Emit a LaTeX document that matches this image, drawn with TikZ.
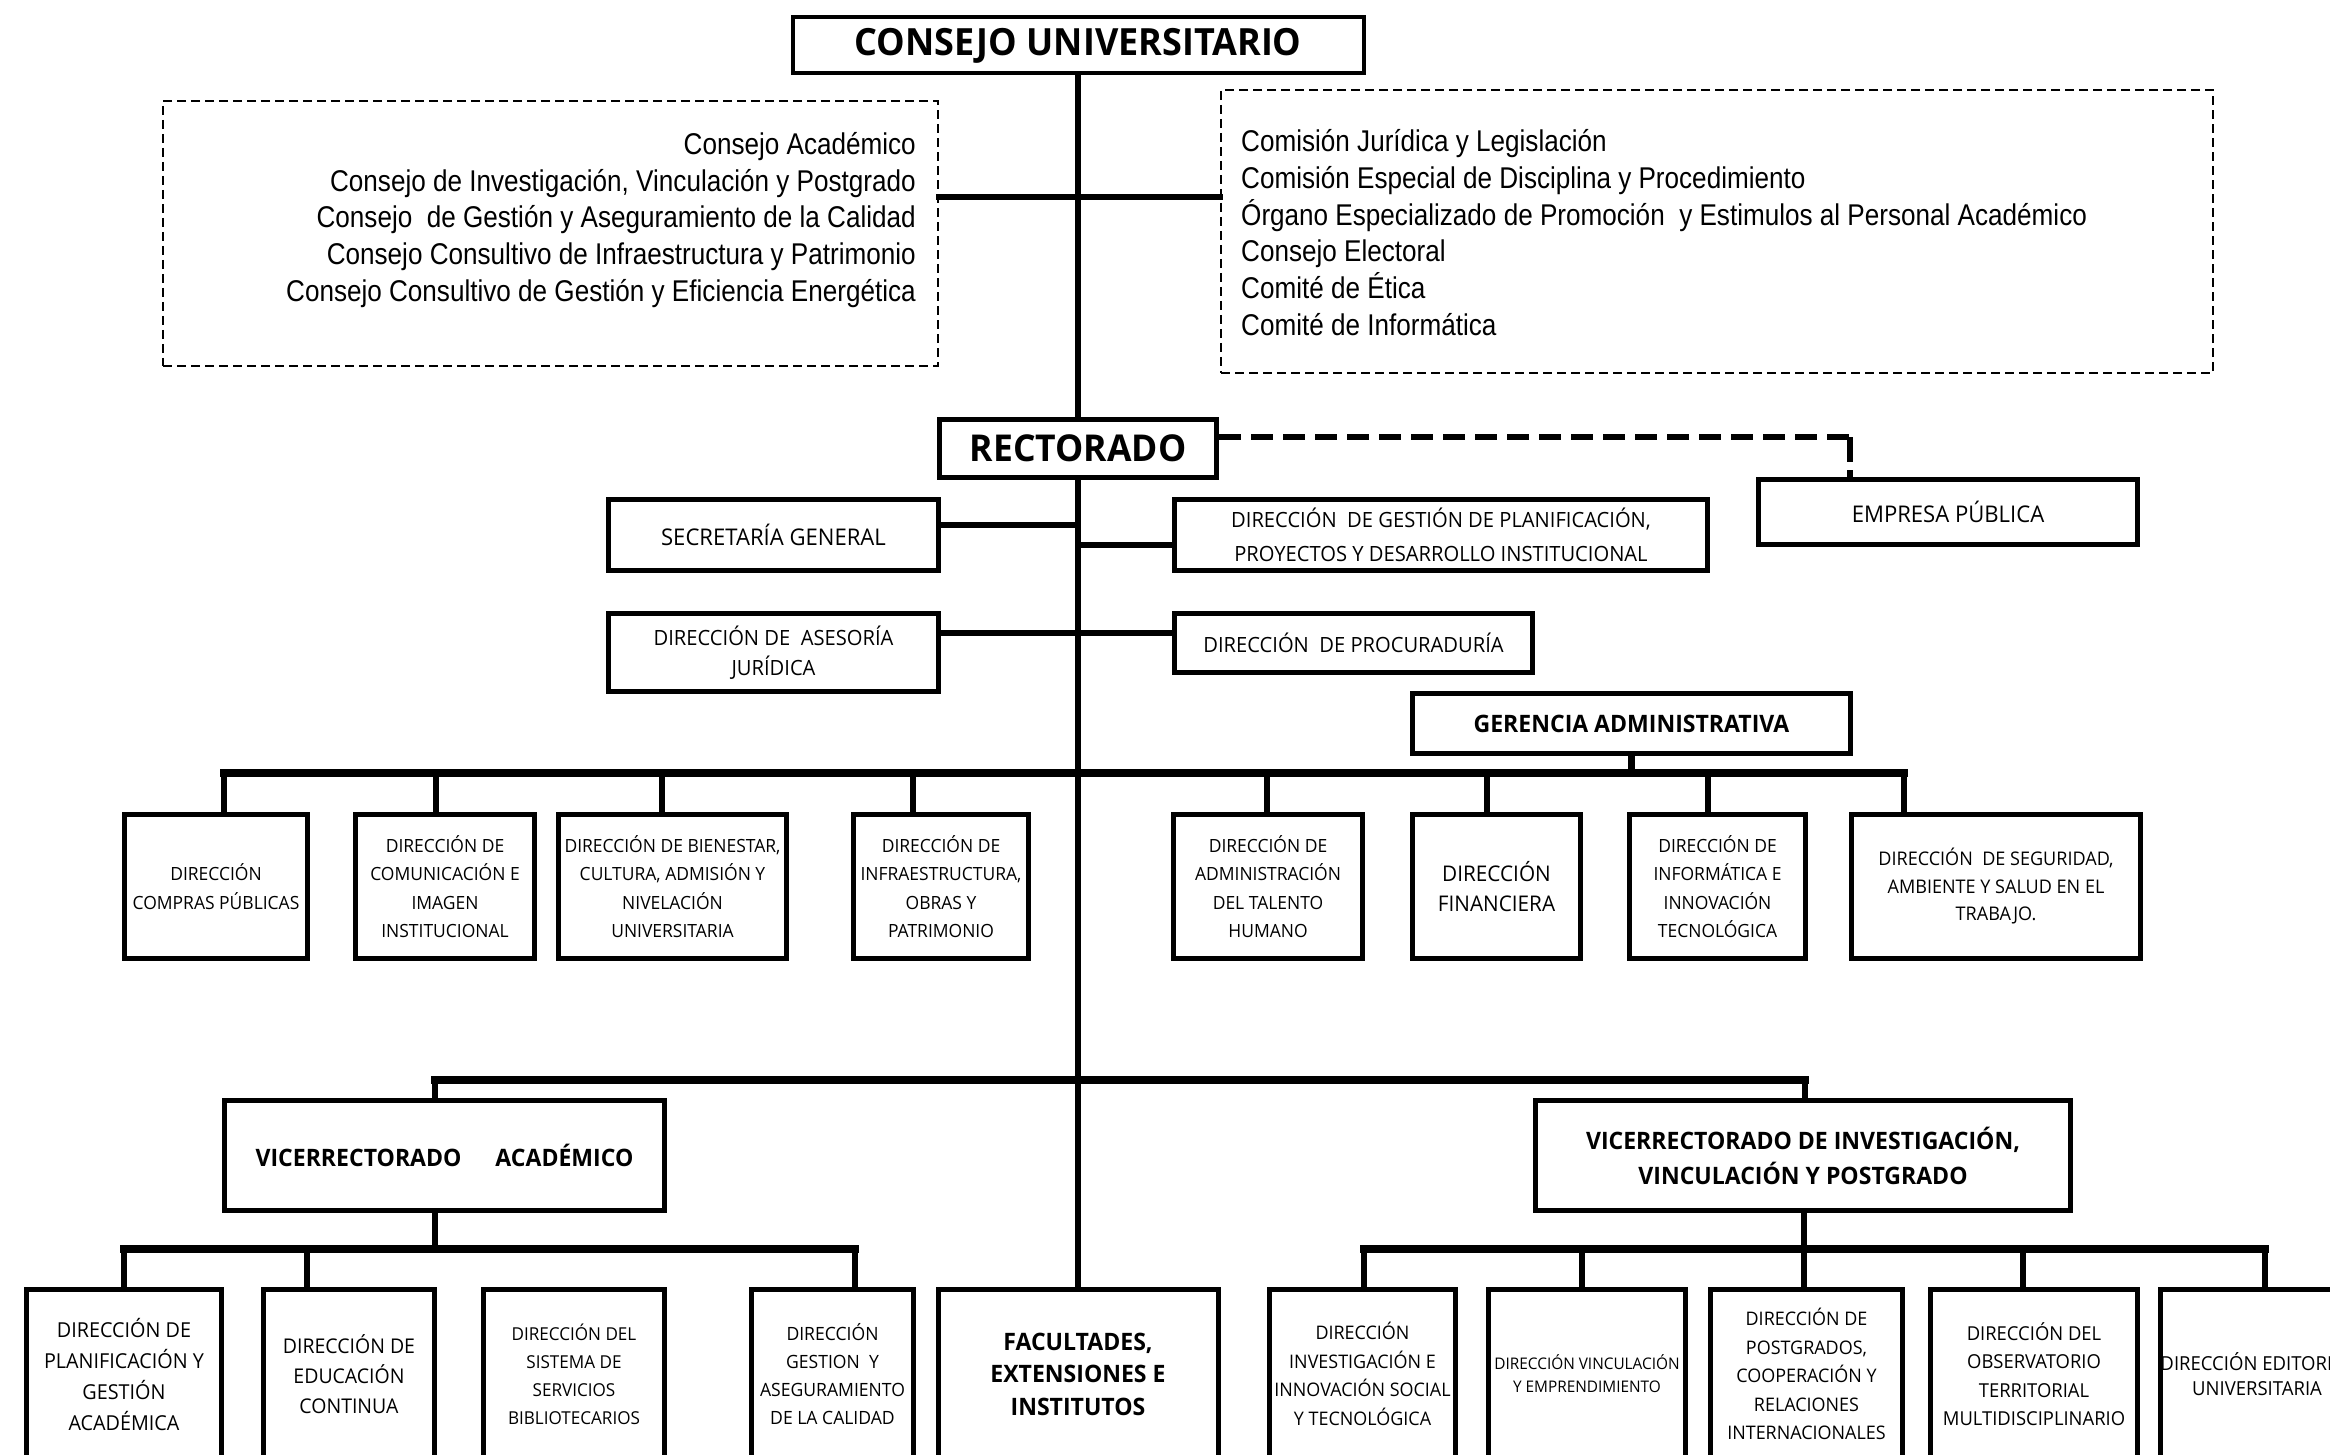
\documentclass[tikz,border=0pt]{standalone}
\usepackage{fontspec}
\setmainfont[FakeStretch=0.96]{Open Sans}
\newfontfamily\listfont[FakeStretch=0.87]{Liberation Sans}
\usetikzlibrary{calc}
\tikzset{
  unit/.style={draw, line width=5pt, fill=white, inner sep=0pt, align=center},
  wh/.style 2 args={minimum width=#1, minimum height=#2},
  conn/.style={line width=6.5pt, line cap=rect},
  bus/.style={line width=7.5pt, line cap=rect},
  dashbox/.style={draw, line width=1.8pt, dash pattern=on 9pt off 5pt, inner sep=0pt},
  dashconn/.style={line width=6pt, dash pattern=on 22pt off 10pt},
  fs/.style 2 args={font=\fontsize{#1}{#2}\selectfont},
  fb/.style 2 args={font=\bfseries\fontsize{#1}{#2}\selectfont},
  lst/.style={font=\listfont\fontsize{30}{36.7}\selectfont, inner sep=0pt}
}
\begin{document}
\begin{tikzpicture}[x=1pt,y=-1pt]
\useasboundingbox (0,0) rectangle (2330,1455);
\fill[white] (0,0) rectangle (2330,1455);
\clip (0,0) rectangle (2330,1455);

\node[unit, line width=4pt, wh={571}{56}, fb={37.5}{40}] (consejo) at (1078,45.5) {CONSEJO UNIVERSITARIO};
\node[dashbox, wh={775}{265}] (cpL) at (550.5,233.5) {};
\node[dashbox, wh={992}{283}] (cpR) at (1717,231.5) {};
\node[lst, align=right, anchor=east] (cpLtxt) at (916,220) {Consejo Académico\\
  Consejo de Investigación, Vinculación y Postgrado\\
  Consejo\ \ de Gestión y Aseguramiento de la Calidad\\
  Consejo Consultivo de Infraestructura y Patrimonio\\
  Consejo Consultivo de Gestión y Eficiencia Energética};
\node[lst, align=left, anchor=west] (cpRtxt) at (1241,232.5) {Comisión Jurídica y Legislación\\
  Comisión Especial de Disciplina y Procedimiento\\
  Órgano Especializado de Promoción\ \ y Estimulos al Personal Académico\\
  Consejo Electoral\\
  Comité de Ética\\
  Comité de Informática};

\node[unit, wh={277}{58}, fb={37}{40}] (rect) at (1078,448.5) {RECTORADO};
\node[unit, wh={379}{65}, fs={23}{30}] (empresa) at (1948,512) {EMPRESA PÚBLICA};
\node[unit, wh={330}{71}, fs={23}{30}] (secgen) at (773.5,535) {SECRETARÍA GENERAL};
\node[unit, wh={533}{71}, fs={21}{34}] (planif) at (1441,535) {DIRECCIÓN\ \ DE GESTIÓN DE PLANIFICACIÓN,\\PROYECTOS Y DESARROLLO INSTITUCIONAL};
\node[unit, wh={330}{78}, fs={21}{30}] (asesoria) at (773.5,652.5) {DIRECCIÓN DE\ \ ASESORÍA\\JURÍDICA};
\node[unit, wh={358}{59}, fs={21}{30}] (procur) at (1353.5,643) {DIRECCIÓN\ \ DE PROCURADURÍA};
\node[unit, wh={438}{60}, fb={24}{30}] (gerencia) at (1631.5,723.5) {GERENCIA ADMINISTRATIVA};

\begin{scope}[every node/.append style={unit, minimum height=144, fs={18.2}{28.5}}]
\node[minimum width=183] (compras) at (216,886.5) {DIRECCIÓN\\COMPRAS PÚBLICAS};
\node[minimum width=179] (comunic) at (445,886.5) {DIRECCIÓN DE\\COMUNICACIÓN E\\IMAGEN\\INSTITUCIONAL};
\node[minimum width=228] (bienestar) at (672.5,886.5) {DIRECCIÓN DE BIENESTAR,\\CULTURA, ADMISIÓN Y\\NIVELACIÓN\\UNIVERSITARIA};
\node[minimum width=175] (infra) at (941,886.5) {DIRECCIÓN DE\\INFRAESTRUCTURA,\\OBRAS Y\\PATRIMONIO};
\node[minimum width=189] (talento) at (1268,886.5) {DIRECCIÓN DE\\ADMINISTRACIÓN\\DEL TALENTO\\HUMANO};
\node[minimum width=168, fs={21.6}{30}] (financ) at (1496.5,886.5) {DIRECCIÓN\\FINANCIERA};
\node[minimum width=176] (informat) at (1717.5,886.5) {DIRECCIÓN DE\\INFORMÁTICA E\\INNOVACIÓN\\TECNOLÓGICA};
\node[minimum width=289, fs={18.8}{27.5}] (seguridad) at (1996,886.5) {DIRECCIÓN\ \ DE SEGURIDAD,\\AMBIENTE Y SALUD EN EL\\TRABAJO.};
\end{scope}

\node[unit, wh={440}{110}, fb={24}{35}] (va) at (444.5,1155.5) {VICERRECTORADO\hspace{34pt}ACADÉMICO};
\node[unit, wh={535}{110}, fb={24}{35}] (vip) at (1803,1155.5) {VICERRECTORADO DE INVESTIGACIÓN,\\VINCULACIÓN Y POSTGRADO};

\begin{scope}[every node/.append style={unit, minimum height=170}]
\node[minimum width=195, fs={20.6}{31}] (planacad) at (124,1374) {DIRECCIÓN DE\\PLANIFICACIÓN Y\\GESTIÓN\\ACADÉMICA};
\node[minimum width=171, fs={20.3}{30}] (educ) at (349,1374) {DIRECCIÓN DE\\EDUCACIÓN\\CONTINUA};
\node[minimum width=181, fs={17.8}{28}] (sistema) at (574,1374) {DIRECCIÓN DEL\\SISTEMA DE\\SERVICIOS\\BIBLIOTECARIOS};
\node[minimum width=162, fs={18.3}{28}] (gestcal) at (832.5,1374) {DIRECCIÓN\\GESTION\ \ Y\\ASEGURAMIENTO\\DE LA CALIDAD};
\node[minimum width=280, fb={24}{32.5}] (facult) at (1078,1374) {FACULTADES,\\EXTENSIONES E\\INSTITUTOS};
\node[minimum width=186, fs={18.7}{28.5}] (invest) at (1362.5,1374) {DIRECCIÓN\\INVESTIGACIÓN E\\INNOVACIÓN SOCIAL\\Y TECNOLÓGICA};
\node[minimum width=197, fs={16}{23}] (vincul) at (1587,1374) {DIRECCIÓN VINCULACIÓN\\Y EMPRENDIMIENTO};
\node[minimum width=192, fs={18.7}{28.5}] (postg) at (1806.5,1374) {DIRECCIÓN DE\\POSTGRADOS,\\COOPERACIÓN Y\\RELACIONES\\INTERNACIONALES};
\node[minimum width=207, fs={19.2}{28.5}] (observ) at (2034,1374) {DIRECCIÓN DEL\\OBSERVATORIO\\TERRITORIAL\\MULTIDISCIPLINARIO};
\node[minimum width=171, fs={19.3}{25}] (editor) at (2257,1374) {DIRECCIÓN EDITORIAL\\UNIVERSITARIA};
\end{scope}

\draw[conn] (consejo.south) -- (rect.north);
\draw[conn] (rect.south) -- (facult.north);
\draw[conn] ([yshift=36.5pt]cpL.east) -- ([yshift=36.5pt]cpL.east -| cpR.west);
\path ([yshift=11.5pt]rect.east) coordinate (eph) ([xshift=-98pt]empresa.north) coordinate (epv);
\draw[dashconn] (eph) -- (eph -| epv);
\draw[dashconn, dash pattern=on 25pt off 8pt] (eph -| epv) -- (epv);
\draw[conn] ([yshift=10pt]secgen.east) -- ([yshift=10pt]secgen.east -| rect.south);
\draw[conn] ([yshift=-10pt]planif.west) -- ([yshift=-10pt]planif.west -| rect.south);
\draw[conn] ([yshift=19.5pt]asesoria.east) -- ([yshift=19.5pt]asesoria.east -| procur.west);

\foreach \n/\x in {compras/224,comunic/436,bienestar/662,infra/913,talento/1267,financ/1487,informat/1708,seguridad/1904}{
  \coordinate (d\n) at (\x,773);
  \draw[conn] (d\n) -- (d\n |- \n.north);
}
\draw[bus] (dcompras) -- (dseguridad);
\draw[conn] (gerencia.south) -- (gerencia.south |- dseguridad);

\coordinate (vva) at (435,1080);
\coordinate (vvip) at (1805,1080);
\draw[bus] (vva) -- (vvip);
\draw[conn] (vva) -- (vva |- va.north);
\draw[conn] (vvip) -- (vvip |- vip.north);

\foreach \n/\x in {planacad/124,educ/307,gestcal/855}{
  \coordinate (s\n) at (\x,1249);
  \draw[conn] (s\n) -- (s\n |- \n.north);
}
\draw[bus] (splanacad) -- (sgestcal);
\draw[conn] (va.south -| vva) -- (vva |- splanacad);

\foreach \n/\x in {invest/1364,vincul/1582,postg/1804,observ/2023,editor/2265}{
  \coordinate (s\n) at (\x,1249);
  \draw[conn] (s\n) -- (s\n |- \n.north);
}
\draw[bus] (sinvest) -- (seditor);
\draw[conn] (vip.south -| spostg) -- (spostg);
\end{tikzpicture}
\end{document}
